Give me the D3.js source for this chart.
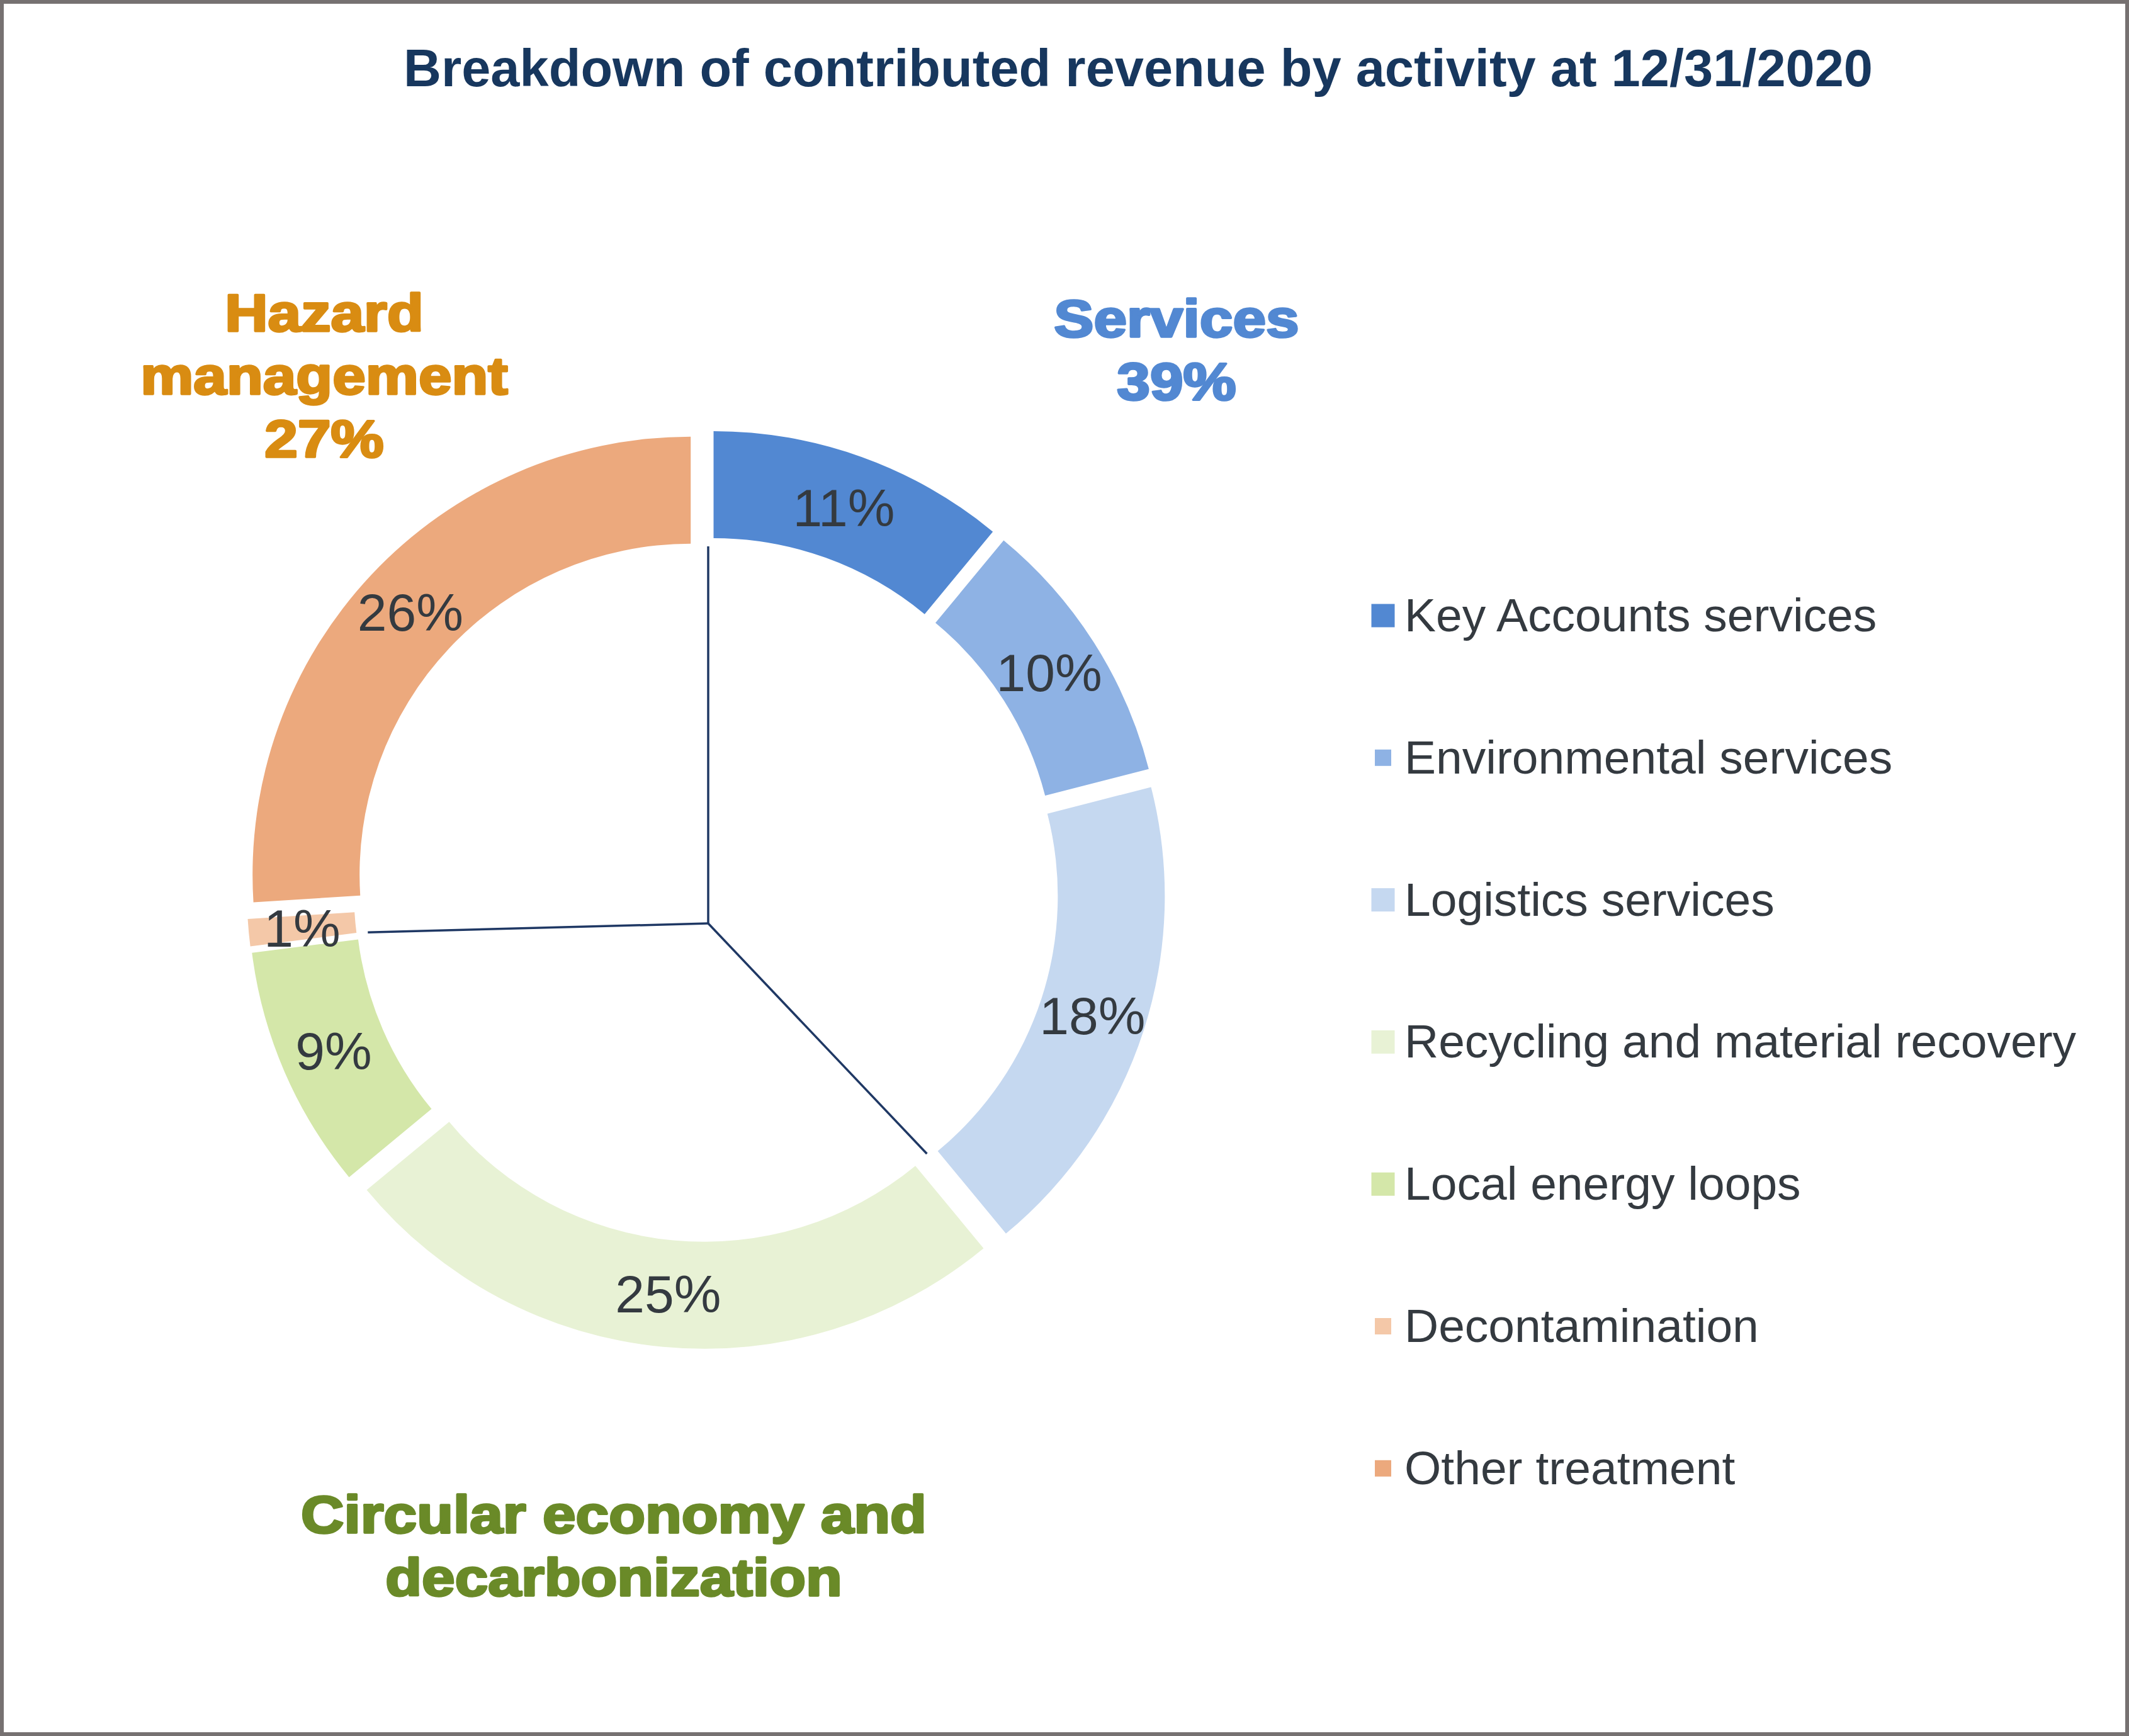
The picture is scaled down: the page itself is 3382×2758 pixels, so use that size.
<!DOCTYPE html>
<html>
<head>
<meta charset="utf-8">
<script src="https://cdn.jsdelivr.net/npm/d3@7"></script>
<style>
  body { margin: 0; background: #fff; }
  svg { display: block; }
</style>
</head>
<body>
<div id="wrapper"></div>
<script>
// activities, clockwise from 12 o'clock
const categories = [
  "Key Accounts services",
  "Environmental services",
  "Logistics services",
  "Recycling and material recovery",
  "Local energy loops",
  "Decontamination",
  "Other treatment",
];
const shares = [11, 10, 18, 25, 9, 1, 26];
const sliceColors = ["#5288d2", "#8eb2e4", "#c5d8f0", "#e8f2d5", "#d4e7a9", "#f4c8a8", "#eca97d"];
// legend marker is drawn smaller for some entries in the original
const smallMarker = [false, true, false, false, false, true, true];

const groups = ["Services", "Circular economy and decarbonization", "Hazard management"];
const groupShares = [39, 34, 27];
const groupLines = [["Services"], ["Circular economy and", "decarbonization"], ["Hazard", "management"]];
const groupShowShare = [true, false, true];
const groupColors = ["#5288d2", "#6a8a28", "#d98c12"];

const title = "Breakdown of contributed revenue by activity at 12/31/2020";

const dimensions = {
  width: 3382,
  height: 2758,
  cx: 1122,
  cy: 1413,
  outer: 696,
  inner: 526,
  explode: 34,
};

const textColor = "#343a40";

const svg = d3.select("#wrapper")
  .append("svg")
  .attr("width", dimensions.width)
  .attr("height", dimensions.height);

// frame
svg.append("rect")
  .attr("x", 3).attr("y", 3)
  .attr("width", dimensions.width - 6)
  .attr("height", dimensions.height - 6)
  .attr("fill", "#fff")
  .attr("stroke", "#767171")
  .attr("stroke-width", 6);

svg.append("text")
  .attr("x", 1808)
  .attr("y", 137)
  .attr("text-anchor", "middle")
  .style("font-family", "'Liberation Sans', Arial, sans-serif")
  .style("font-weight", "bold")
  .style("font-size", "83px")
  .attr("fill", "#17375e")
  .text(title);

const dataset = categories.map((name, i) => ({
  name,
  value: shares[i],
  color: sliceColors[i],
  small: smallMarker[i],
}));

const pie = d3.pie().sort(null).value((d) => d.value);
const arcs = pie(dataset);

const arc = d3.arc()
  .innerRadius(dimensions.inner)
  .outerRadius(dimensions.outer);

const labelArc = d3.arc()
  .innerRadius((dimensions.inner + dimensions.outer) / 2)
  .outerRadius((dimensions.inner + dimensions.outer) / 2);

const offset = (d) => {
  const mid = (d.startAngle + d.endAngle) / 2;
  return [dimensions.explode * Math.sin(mid), -dimensions.explode * Math.cos(mid)];
};

const donut = svg.append("g")
  .attr("transform", `translate(${dimensions.cx},${dimensions.cy})`);

// inner pie: just the three group dividers
const groupPie = d3.pie().sort(null)(groupShares);
const apex = [3, 54];
const lineRadius = 545;
const lineCenter = [3, 0];
donut.append("g")
  .selectAll("line")
  .data(groupPie)
  .join("line")
  .attr("x1", apex[0])
  .attr("y1", apex[1])
  .attr("x2", (d) => lineCenter[0] + lineRadius * Math.sin(d.startAngle))
  .attr("y2", (d) => lineCenter[1] - lineRadius * Math.cos(d.startAngle))
  .attr("stroke", "#1f3864")
  .attr("stroke-width", 3.5);

const slices = donut.selectAll("g.slice")
  .data(arcs)
  .join("g")
  .attr("class", "slice")
  .attr("transform", (d) => `translate(${offset(d)})`);

slices.append("path")
  .attr("d", arc)
  .attr("fill", (d) => d.data.color);

slices.append("text")
  .attr("transform", (d) => `translate(${labelArc.centroid(d)})`)
  .attr("text-anchor", "middle")
  .attr("dy", "0.36em")
  .style("font-family", "'Liberation Sans', Arial, sans-serif")
  .style("font-size", "84px")
  .attr("fill", textColor)
  .text((d) => `${d.data.value}%`);

// group labels (heavy face, widened to mimic Arial Black)
const groupPos = [
  { x: 1869, y: 535 },
  { x: 975, y: 2435 },
  { x: 515, y: 526 },
];
const lineHeight = 100;

groups.forEach((g, i) => {
  const lines = groupLines[i].slice();
  if (groupShowShare[i]) lines.push(`${groupShares[i]}%`);
  const label = svg.append("text")
    .attr("text-anchor", "middle")
    .style("font-family", "'Liberation Sans', Arial, sans-serif")
    .style("font-weight", "bold")
    .style("font-size", "83px")
    .attr("fill", groupColors[i])
    .attr("stroke", groupColors[i])
    .attr("stroke-width", 3.5)
    .attr("stroke-linejoin", "round");
  lines.forEach((ln, j) => {
    label.append("tspan")
      .attr("x", groupPos[i].x)
      .attr("y", groupPos[i].y + j * lineHeight)
      .text(ln);
  });
  label.selectAll("tspan").each(function () {
    const w = this.getComputedTextLength();
    d3.select(this)
      .attr("textLength", w * 1.14)
      .attr("lengthAdjust", "spacingAndGlyphs");
  });
});

// legend
const legend = svg.append("g")
  .attr("transform", "translate(2197,1003)");
const legendStep = 225.8;

const items = legend.selectAll("g")
  .data(dataset)
  .join("g")
  .attr("transform", (d, i) => `translate(0,${i * legendStep})`);

items.append("rect")
  .attr("x", (d) => (d.small ? -13 : -18.5))
  .attr("y", (d) => (d.small ? -25 - 13 : -25 - 18.5))
  .attr("width", (d) => (d.small ? 26 : 37))
  .attr("height", (d) => (d.small ? 26 : 37))
  .attr("fill", (d) => d.color);

items.append("text")
  .attr("x", 34)
  .attr("y", 0)
  .style("font-family", "'Liberation Sans', Arial, sans-serif")
  .style("font-size", "75px")
  .attr("fill", textColor)
  .text((d) => d.name);
</script>
</body>
</html>
